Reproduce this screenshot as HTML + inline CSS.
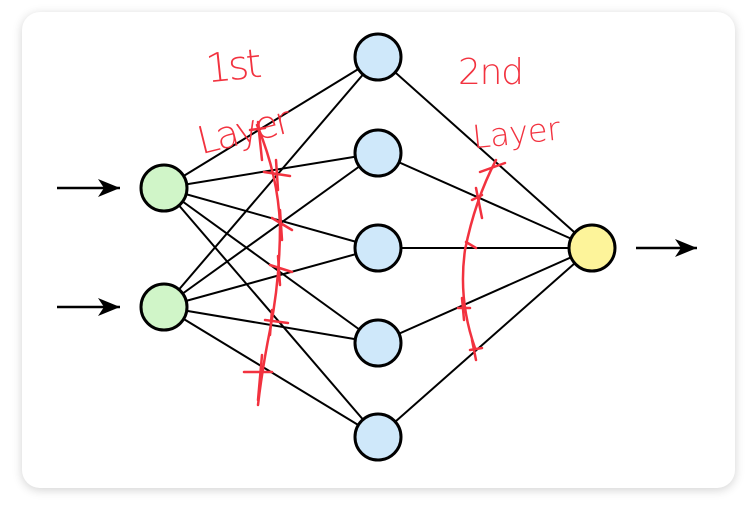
<!DOCTYPE html>
<html><head><style>
html,body{margin:0;padding:0;background:#fff;width:750px;height:505px;overflow:hidden}
.card{position:absolute;left:22px;top:12px;width:713px;height:476px;border-radius:18px;background:#fff;box-shadow:0 2px 10px rgba(0,0,0,0.18)}
svg{position:absolute;left:0;top:0}
</style></head><body>
<div class="card"></div>
<svg width="750" height="505" viewBox="0 0 750 505">
<defs><marker id="ah" markerWidth="24" markerHeight="20" refX="22" refY="10" orient="auto" markerUnits="userSpaceOnUse"><path d="M0,1 L22,10 L0,19 L6,10 Z" fill="#000"/></marker></defs>
<g stroke="#000" stroke-width="2" fill="none">
<line x1="164" y1="188" x2="378" y2="57"/><line x1="164" y1="188" x2="378" y2="153"/><line x1="164" y1="188" x2="378" y2="248"/><line x1="164" y1="188" x2="378" y2="343"/><line x1="164" y1="188" x2="378" y2="437"/>
<line x1="164" y1="307" x2="378" y2="57"/><line x1="164" y1="307" x2="378" y2="153"/><line x1="164" y1="307" x2="378" y2="248"/><line x1="164" y1="307" x2="378" y2="343"/><line x1="164" y1="307" x2="378" y2="437"/>
<line x1="378" y1="57" x2="592" y2="248"/><line x1="378" y1="153" x2="592" y2="248"/><line x1="378" y1="248" x2="592" y2="248"/><line x1="378" y1="343" x2="592" y2="248"/><line x1="378" y1="437" x2="592" y2="248"/>
<line x1="57" y1="188" x2="120" y2="188" marker-end="url(#ah)" stroke-width="2.5"/>
<line x1="57" y1="307" x2="120" y2="307" marker-end="url(#ah)" stroke-width="2.5"/>
<line x1="636" y1="248" x2="697" y2="248" marker-end="url(#ah)" stroke-width="2.5"/>
</g>
<g stroke="#000" stroke-width="3">
<circle cx="164" cy="188" r="23" fill="#d0f5c8"/><circle cx="164" cy="307" r="23" fill="#d0f5c8"/>
<circle cx="378" cy="57" r="23" fill="#cfe8fa"/><circle cx="378" cy="153" r="23" fill="#cfe8fa"/><circle cx="378" cy="248" r="23" fill="#cfe8fa"/><circle cx="378" cy="343" r="23" fill="#cfe8fa"/><circle cx="378" cy="437" r="23" fill="#cfe8fa"/>
<circle cx="592" cy="248" r="23" fill="#fdf49a"/>
</g>
<g stroke="#f2323f" stroke-width="2.5" fill="none" stroke-linecap="round">
<path d="M257,125 Q278,175 280,225 Q280,280 270,330 Q262,370 258,405"/>
<path d="M250,130 L265,128 M258,122 L262,160 M264,172 L290,176 M276,160 L278,190 M272,218 L292,230 M280,210 L282,240 M270,265 L292,272 M278,256 L280,285 M265,320 L288,323 M272,310 L270,335 M244,372 L272,372 M262,355 L258,400"/>
<path d="M496,160 Q475,200 465,250 Q458,300 475,348"/>
<path d="M480,172 L505,163 M472,200 L482,195 M476,188 L482,218 M466,242 L476,248 M458,308 L470,308 M462,298 L464,320 M470,350 L482,348 M472,340 L476,360"/>
</g>
<g fill="#f2323f" font-family="'DejaVu Sans',sans-serif" font-weight="300">
<text x="205" y="80" font-size="40" transform="rotate(-6 230 60)" textLength="56">1st</text>
<text x="194" y="144" font-size="38" transform="rotate(-14 240 120)" textLength="95">Layer</text>
<text x="458" y="84" font-size="36" textLength="66">2nd</text>
<text x="472" y="144" font-size="32" transform="rotate(-6 515 130)" textLength="88">Layer</text>
</g>
</svg>
</body></html>
